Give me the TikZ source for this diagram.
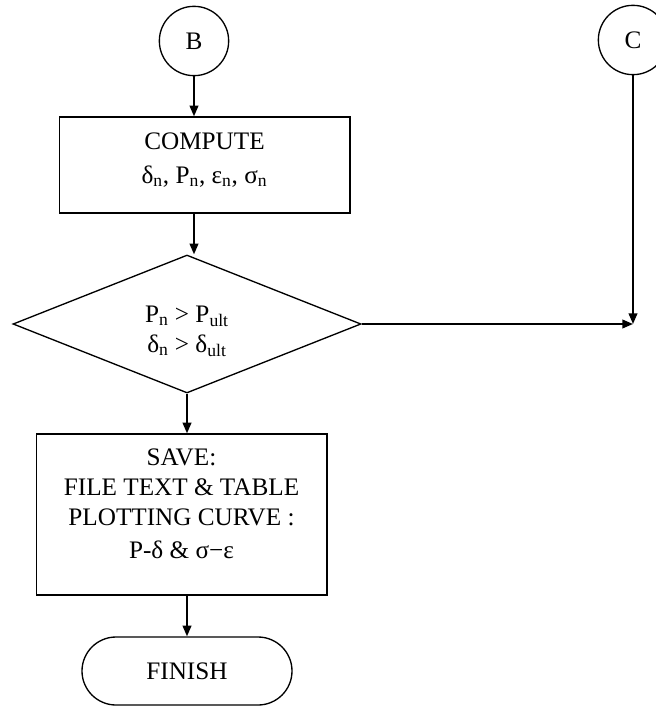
\documentclass[tikz,border=0pt]{standalone}
\usepackage{fontspec}
\setmainfont{Liberation Serif}
\usetikzlibrary{shapes.geometric,arrows.meta}

\begin{document}
\begin{tikzpicture}[x=0.75pt, y=-0.75pt, line width=1pt,
		every node/.style={font=\fontsize{18.9pt}{22.5pt}\selectfont, align=center},
		conn/.style={draw, circle, minimum size=52pt, inner sep=0pt},
		proc/.style={draw, rectangle, minimum width=218pt, inner sep=0pt},
		flow/.style={-{Triangle[length=8pt,width=6.5pt]}, line width=1.4pt}]
		\useasboundingbox (0, 0) rectangle (656, 706);
		
		\node[conn] (B) at (194, 41) {B};
		\node[conn] (C) at (633, 40) {C};
		
		\node[proc, minimum height=72pt] (compute) at (204.5, 165) {};
		\node (computetxt) at (204.5, 160) {COMPUTE\\[3pt]δ\textsubscript{n}, P\textsubscript{n}, ε\textsubscript{n}, σ\textsubscript{n}};
		
		\node[draw, diamond, minimum width=261pt, minimum height=103.5pt, inner sep=0pt] (check) at (187, 324) {};
		\node (checktxt) at (187, 331) {P\textsubscript{n} > P\textsubscript{ult}\\δ\textsubscript{n} > δ\textsubscript{ult}};
		
		\node[proc, minimum height=120.75pt] (save) at (181.5, 514.5) {};
		\node (savetxt) at (181.5, 504) {SAVE:\\FILE TEXT \& TABLE\\PLOTTING CURVE :\\[2pt]P-δ \& σ−ε};
		
		\node[draw, rectangle, rounded corners=25.5pt, minimum width=157.5pt, minimum height=51pt, inner sep=0pt] (finish) at (187, 671) {FINISH};
		
		\draw[flow] (B) -- (B |- compute.north);
		\draw[flow] (B |- compute.south) -- (B |- check.north);
		\draw[flow] (check.south) -- (check.south |- save.north);
		\draw[flow] (finish.north |- save.south) -- (finish.north);
		\draw[flow] (check.east) -- (C |- check.east);
		\draw[flow] (C) -- (C |- check.east);
	\end{tikzpicture}
\end{document}
